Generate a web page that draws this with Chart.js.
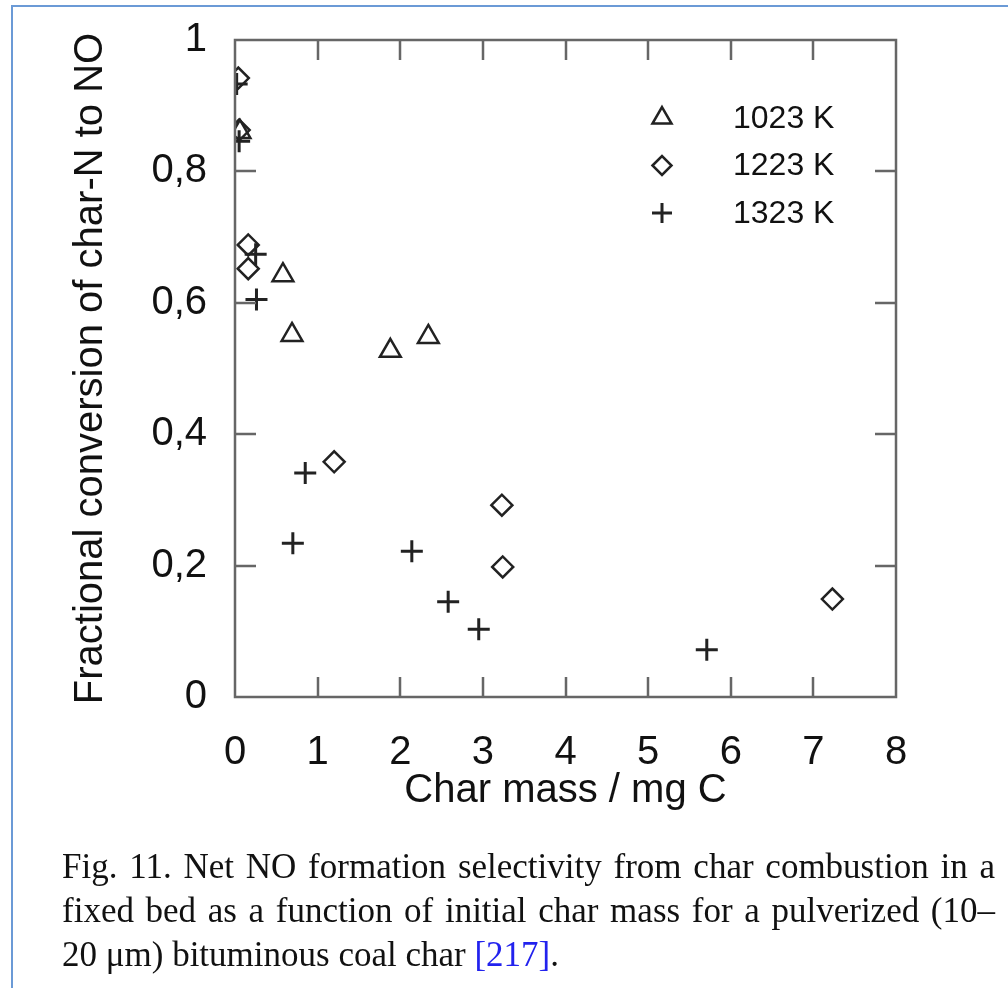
<!DOCTYPE html>
<html>
<head>
<meta charset="utf-8">
<script src="https://cdn.jsdelivr.net/npm/chart.js"></script>
<style>
  html, body { margin: 0; padding: 0; background: #fff; overflow: hidden; }
  #wrap { position: relative; width: 1008px; height: 988px; }
  #frame { position: absolute; left: 11px; top: 5px; right: 0; bottom: 0;
           border-left: 2px solid #6b9ad6; border-top: 2px solid #6b9ad6; }
  #myChart { position: absolute; left: 0; top: 0; }
  #caption { position: absolute; left: 62px; top: 845px; width: 933px;
             font-family: "Liberation Serif", "Times New Roman", serif;
             font-size: 35px; line-height: 44px; color: #111; }
  #caption div { text-align: justify; text-align-last: justify; white-space: nowrap; }
  #caption div.last { text-align-last: left; }
  #caption span { color: #2222ee; }
</style>
</head>
<body>
<div id="wrap">
  <canvas id="myChart" width="1008" height="840"></canvas>
  <div id="frame"></div>
  <div id="caption">
    <div>Fig. 11. Net NO formation selectivity from char combustion in a</div>
    <div>fixed bed as a function of initial char mass for a pulverized (10–</div>
    <div class="last">20 μm) bituminous coal char <span>[217]</span>.</div>
  </div>
</div>
<script>
const seriesLabels = ["1023 K", "1223 K", "1323 K"];

const x1023 = [0.06, 0.58, 0.69, 1.88, 2.34];
const y1023 = [0.86, 0.642, 0.551, 0.527, 0.548];

const x1223 = [0.04, 0.05, 0.16, 0.16, 1.2, 3.23, 3.24, 7.23];
const y1223 = [0.942, 0.863, 0.688, 0.652, 0.358, 0.292, 0.198, 0.149];

const x1323 = [0.02, 0.05, 0.25, 0.26, 0.85, 0.7, 2.14, 2.58, 2.95, 5.71];
const y1323 = [0.933, 0.846, 0.674, 0.605, 0.341, 0.234, 0.222, 0.145, 0.103, 0.072];

const xTickLabels = ["0", "1", "2", "3", "4", "5", "6", "7", "8"];
const yTickLabels = ["0", "0,2", "0,4", "0,6", "0,8", "1"];

const ink = "#222222";
const axisGray = "#666666";

function toPoints(xs, ys) {
  return xs.map((v, i) => ({ x: v, y: ys[i] }));
}

// box, inward ticks and the legend inside the plot
const framePlugin = {
  id: "framePlugin",
  afterDraw(chart) {
    const { ctx, chartArea: a, scales } = chart;
    const x = scales.x, y = scales.y;
    ctx.save();
    ctx.strokeStyle = axisGray;
    ctx.lineWidth = 2.5;
    ctx.strokeRect(a.left, a.top, a.right - a.left, a.bottom - a.top);
    ctx.beginPath();
    x.ticks.forEach((t) => {
      if (t.value <= x.min || t.value >= x.max) return;
      const px = Math.round(x.getPixelForValue(t.value));
      ctx.moveTo(px, a.bottom); ctx.lineTo(px, a.bottom - 20);
      ctx.moveTo(px, a.top); ctx.lineTo(px, a.top + 20);
    });
    y.ticks.forEach((t) => {
      if (t.value <= y.min || t.value >= y.max) return;
      const py = Math.round(y.getPixelForValue(t.value));
      ctx.moveTo(a.left, py); ctx.lineTo(a.left + 21, py);
      ctx.moveTo(a.right, py); ctx.lineTo(a.right - 21, py);
    });
    ctx.stroke();

    // legend
    const lx = a.left + 427, ly = a.top + 78;
    chart.data.datasets.forEach((ds, i) => {
      const cy = ly + i * 47.5;
      ctx.strokeStyle = ink;
      ctx.fillStyle = "rgba(0,0,0,0)";
      ctx.lineWidth = ds.pointBorderWidth;
      Chart.helpers.drawPoint(ctx, {
        pointStyle: ds.pointStyle, rotation: 0,
        radius: ds.pointRadius - 1, borderWidth: ds.pointBorderWidth
      }, lx, cy);
      ctx.fillStyle = "#111";
      ctx.font = '32px "Liberation Sans", Arial, sans-serif';
      ctx.textAlign = "left";
      ctx.textBaseline = "middle";
      ctx.fillText(ds.label, lx + 71, cy + 1);
    });
    ctx.restore();
  }
};

const ctx = document.getElementById("myChart");

new Chart(ctx, {
  type: "scatter",
  data: {
    datasets: [
      {
        label: seriesLabels[0],
        data: toPoints(x1023, y1023),
        pointStyle: "triangle",
        pointRadius: 12,
        borderColor: ink,
        backgroundColor: "rgba(0,0,0,0)",
        pointBorderWidth: 2.5,
      },
      {
        label: seriesLabels[1],
        data: toPoints(x1223, y1223),
        pointStyle: "rectRot",
        pointRadius: 10.5,
        borderColor: ink,
        backgroundColor: "rgba(0,0,0,0)",
        pointBorderWidth: 2.5,
      },
      {
        label: seriesLabels[2],
        data: toPoints(x1323, y1323),
        pointStyle: "cross",
        pointRadius: 11,
        borderColor: ink,
        backgroundColor: "rgba(0,0,0,0)",
        pointBorderWidth: 3,
      },
    ],
  },
  options: {
    responsive: false,
    animation: false,
    devicePixelRatio: 1,
    layout: { padding: { left: 0, top: 40, right: 112, bottom: 0 } },
    plugins: {
      legend: { display: false },
      tooltip: { enabled: false },
    },
    scales: {
      x: {
        type: "linear",
        min: 0,
        max: 8,
        afterFit(scale) {
          scale.height = 143;
          scale.paddingLeft = 0;
          scale.paddingRight = 0;
        },
        grid: { display: false, drawTicks: false },
        border: { display: false },
        ticks: {
          stepSize: 1,
          padding: 32,
          color: "#111",
          font: { family: '"Liberation Sans", Arial, sans-serif', size: 40 },
          callback: (v, i) => xTickLabels[i],
        },
        title: {
          display: true,
          text: "Char mass / mg C",
          color: "#111",
          padding: { top: 0, bottom: 25 },
          font: { family: '"Liberation Sans", Arial, sans-serif', size: 40 },
        },
      },
      y: {
        type: "linear",
        min: 0,
        max: 1,
        afterFit(scale) {
          scale.width = 235;
          scale.paddingTop = 0;
          scale.paddingBottom = 0;
        },
        grid: { display: false, drawTicks: false },
        border: { display: false },
        ticks: {
          stepSize: 0.2,
          padding: 28,
          color: "#111",
          font: { family: '"Liberation Sans", Arial, sans-serif', size: 40 },
          callback: (v, i) => yTickLabels[i],
        },
        title: {
          display: true,
          text: "Fractional conversion of char-N to NO",
          color: "#111",
          padding: { top: 67, bottom: 0 },
          font: { family: '"Liberation Sans", Arial, sans-serif', size: 40 },
        },
      },
    },
  },
  plugins: [framePlugin],
});
</script>
</body>
</html>
